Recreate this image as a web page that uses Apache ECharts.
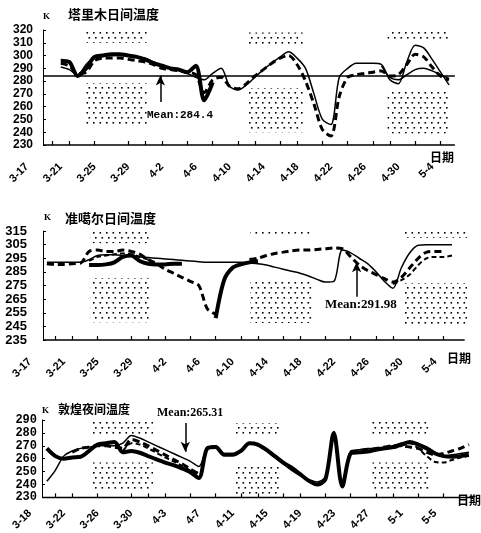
<!DOCTYPE html>
<html>
<head>
<meta charset="utf-8">
<script src="https://cdn.jsdelivr.net/npm/echarts@6/dist/echarts.min.js"></script>
<style>
  html, body { margin: 0; padding: 0; background: #fff; }
  #chart { width: 481px; height: 533px; }
</style>
</head>
<body>
<div id="chart"></div>
<script>
// tick labels (dates), every 4 days
const datesA = ['3-17', '3-21', '3-25', '3-29', '4-2', '4-6', '4-10', '4-14', '4-18', '4-22', '4-26', '4-30', '5-4'];
const datesB = ['3-18', '3-22', '3-26', '3-30', '4-3', '4-7', '4-11', '4-15', '4-19', '4-23', '4-27', '5-1', '5-5'];

// 塔里木日间温度, day 0 = 3-17
const tarimDays = [4, 5, 6, 7, 8, 9, 10, 11, 12, 13, 14, 15, 16, 17, 18, 19, 20, 21, 22, 23, 24, 25, 26, 27,
  28, 29, 30, 31, 32, 33, 34, 35, 36, 37, 38, 39, 40, 41, 42, 43, 44, 45, 46, 47, 48, 49, 50];
const tarimThin = [291, 289, 285, 293, 299, 300, 300, 300, 300, 299, 298, 295, 292, 290, 288, 286, 283, 281, 286, 290,
  276, 273, 277, 283, 289, 294, 299, 303, 298, 290, 270, 250, 246, 283, 290, 294, 294, 294, 293, 281, 278, 295, 308,
  306, 297, 287, 277];
const tarimThick = [296, 295, 284, 290, 299, 300, 301, 301, 300, 299, 297, 294, 292, 290, 289, 287, 292, 265, 279,
  null, null, null, null, null, null, null, null, null, null, null, null, null, null, null, null, null, null, null,
  null, null, null, null, null, null, null, null, null];
const tarimDash = [294, 292, 286, 287, 296, 298, 298, 298, 297, 296, 295, 293, 290, 289, 288, 287, 285, 271, 281, 283,
  276, 274, 278, 284, 289, 294, 298, 300, 293, 280, 262, 242, 237, 268, 283, 285, 286, 287, 288, 284, 285, 293, 301,
  299, 291, 284, 281];
const tarimThin2 = [null, null, null, null, null, null, null, null, null, null, null, null, null, null, null, null,
  null, null, null, null, null, null, null, null, null, null, null, null, null, null, null, null, null, null, null,
  null, null, null, 292, 283, 281, 285, 289, 290, 288, 285, 282];
const tarimMean = 284.4;
const tarimBoxes = [[6.9, 14.2, 310, 320], [26.2, 32.7, 308, 318], [42.7, 49.9, 313, 320],
  [6.9, 14.2, 244, 278.5], [26.2, 32.7, 240, 274.6], [42.7, 49.9, 239, 273]];

// 准噶尔日间温度, day 0 = 3-17
const junggarDays = [2, 3, 4, 5, 6, 7, 8, 9, 10, 11, 12, 13, 14, 15, 16, 17, 18, 19, 20, 21, 22, 23, 24, 25, 26,
  27, 28, 29, 30, 31, 32, 33, 34, 35, 36, 37, 38, 39, 40, 41, 42, 43, 44, 45, 46, 47, 48, 49, 50];
const junggarThin = [292, 292, 292, 292, 292, 294, 297, 297.5, 297.5, 297, 296.5, 296, 295.5, 295, 294.5, 294, 293.5,
  293, 292.5, 292, 292, 292, 292, 292, 291.5, 291, 290, 288.5, 287, 285.5, 284, 282, 279.5, 277.5, 278, 301, 299,
  295, 291, 285, 278, 273, 288, 299, 304.5, 305, 305, 305, 305];
const junggarThick = [null, null, null, null, null, 290, 290, 290.5, 292, 296, 297, 293, 291, 290.5, 290.5, 291, 291,
  null, null, null, 251, 279, 288, 290.5, 292, 293, null, null, null, null, null, null, null, null, null, null, null,
  null, null, null, null, null, null, null, null, null, null, null, null];
const junggarDash = [291, 290.5, 290.5, 291, 291.5, 300, 301, 300, 300, 301, 300, 298, 294, 291, 287, 284, 281, 278,
  275, 258, 254, null, null, null, 294, 295, 297, 298.5, 299.5, 300.5, 301, 301, 301.5, 302, 302.5, 302, 296, 290,
  286, 283, 280, 277.5, 281, 288, 295, 299.5, 300, 300, null];
const junggarDash2 = [null, null, null, null, null, 293, 296, 297, 298, 298.5, 298, 296, 294, null, null, null, null,
  null, null, null, null, null, null, null, null, null, null, null, null, null, null, null, null, null, null, null,
  null, null, null, null, null, 276, 279, 283, 290, 295, 296, 296, 297];
const junggarMean = 291.98;
const junggarBoxes = [[7.1, 14.2, 306, 315], [26.1, 33.5, 310.6, 315], [44.2, 51.8, 310, 315],
  [7.1, 14.2, 248, 280.5], [26.1, 33.5, 247.5, 277.6], [44.2, 51.8, 244.5, 276.8]];

// 敦煌夜间温度, day 0 = 3-18
const dunhuangDays = [2, 3, 4, 5, 6, 7, 8, 9, 10, 11, 12, 13, 14, 15, 16, 17, 18, 19, 20, 21, 22, 23, 24, 25, 26,
  27, 28, 29, 30, 31, 32, 33, 34, 35, 36, 37, 38, 39, 40, 41, 42, 43, 44, 45, 46, 47, 48, 49, 50, 51, 52];
const dunhuangThick = [268, 262, 260, 261, 261.5, 266, 271, 272, 273, 265, 266, 264.6, 262, 259.5, 257, 255, 252.5,
  249.5, 245, 268, 269, 263, 263, 266, 272, 271, 267, 262, 257, 253, 248, 243, 240, 244, 280, 238.5, 264, 265,
  265.5, 267, 268, 269, 271, 273, 271, 268, 264, 262, 261.5, 262, 263];
const dunhuangThin = [242.5, 251, 262, 266, 268, 269, 270, 270, 270, 272, 278, 276, 273, 270, 267, 264, 261, 258, 254,
  268, 270, 264, 264, 267, 271.5, 270, 266, 261, 256, 251, 247, 244, 242, 246, 281, 240, 266, 267, 268, 268, 269,
  270, 272, 273, 271, 269, 265, 262, 263, 264, 265];
const dunhuangDash = [null, null, null, 265, 268, 269, 270, 270, 269, 268, 275, 273, 270, 266.5, 263, 259.5, 256, 252,
  248, null, null, null, null, null, null, null, null, null, null, null, null, null, null, null, null, null, 265,
  266, 267, 268, 269, 270, 270, 269, 268, 265, 263, 264, 266, 268, 271];
const dunhuangDash2 = [null, null, null, null, null, null, null, null, null, 266, 272, 271, 268, 264.5, 261, 258,
  254.5, 251, 249, null, null, null, null, null, null, null, null, null, null, null, null, null, null, null, null,
  null, null, null, null, null, null, 268, 270, 272, 268, 262, 257.5, 257, 259, 261, 262];
const dunhuangMean = 265.31;
const dunhuangBoxes = [[7.3, 14.6, 278.5, 290], [24.1, 29.6, 278.5, 287.7], [40.3, 47.4, 277, 288.5],
  [7.3, 14.6, 236, 257], [24.1, 29.6, 231, 253.8], [40.3, 47.4, 236, 257]];

const PX_PER_DAY = 8.44;

// layout of the three panels
const panels = [
  { left: 27, top: 30, width: 428, height: 115, axisX: 43, yMin: 230, yMax: 320, yFont: 'Liberation Sans',
    ySize: 12, yMargin: 10, xMargin: 20, dates: datesA, baseEnd: 50.7, meanEnd: 50.7, mean: tarimMean,
    arrow: [15.8, 263.6], boxes: tarimBoxes },
  { left: 30, top: 231, width: 443, height: 109, axisX: 43, yMin: 235, yMax: 315, yFont: 'Liberation Sans',
    ySize: 13, yMargin: 16, xMargin: 20, dates: datesA, baseEnd: 51.5, meanEnd: 52.5, mean: junggarMean,
    arrow: [38.7, 266.8], boxes: junggarBoxes },
  { left: 30, top: 420, width: 447, height: 78, axisX: 42, yMin: 230, yMax: 290, yFont: 'Liberation Mono',
    ySize: 12, yMargin: 5, xMargin: 14, dates: datesB, baseEnd: 52.5, meanEnd: 53, mean: dunhuangMean,
    arrow: [18.4, 287.7], boxes: dunhuangBoxes },
];

function dotPattern() {
  const c = document.createElement('canvas');
  c.width = 13;
  c.height = 10;
  const ctx = c.getContext('2d');
  ctx.fillStyle = '#000';
  [[2, 2], [8.5, 2], [4, 7], [10.5, 7]].forEach(([x, y]) => ctx.fillRect(x, y, 1.6, 1.6));
  return c;
}
const dots = { image: dotPattern(), repeat: 'repeat' };

const thin = { width: 1.5 };
const thick = { width: 4 };
const dash = { width: 3, type: [7, 4] };
const dash2 = { width: 2, type: [5, 3] };

function line(gi, days, values, style) {
  return {
    type: 'line',
    xAxisIndex: gi,
    yAxisIndex: gi,
    data: days.map((d, i) => [d, values[i] == null ? '-' : values[i]]),
    showSymbol: false,
    symbol: 'none',
    smooth: 0.3,
    silent: true,
    z: 3,
    lineStyle: Object.assign({ color: '#000' }, style),
  };
}

// x axis line: starts at the y axis, not at the label origin
function baseline(gi) {
  const p = panels[gi];
  const start = (p.axisX - p.left) / PX_PER_DAY;
  return {
    type: 'line',
    xAxisIndex: gi,
    yAxisIndex: gi,
    data: [[start, p.yMin + 0.01], [p.baseEnd, p.yMin + 0.01]],
    showSymbol: false,
    symbol: 'none',
    clip: false,
    silent: true,
    z: 10,
    lineStyle: { color: '#000', width: 1.5 },
  };
}

function annotations(gi) {
  const p = panels[gi];
  const start = (p.axisX - p.left) / PX_PER_DAY;
  return {
    type: 'line',
    xAxisIndex: gi,
    yAxisIndex: gi,
    data: [],
    silent: true,
    clip: false,
    z: 2,
    markArea: {
      silent: true,
      itemStyle: { color: dots },
      data: p.boxes.map(b => [{ xAxis: b[0], yAxis: b[2] }, { xAxis: b[1], yAxis: b[3] }]),
    },
    markLine: {
      silent: true,
      symbol: ['none', 'none'],
      label: { show: false },
      lineStyle: { color: '#000', type: 'solid', width: 1.5 },
      data: [
        [{ coord: [start, p.mean] }, { coord: [p.meanEnd, p.mean] }],
        [{ coord: p.arrow, symbol: 'none' }, { coord: [p.arrow[0], p.mean], symbol: 'arrow', symbolSize: [7, 10] }],
      ],
    },
  };
}

const grid = panels.map(p => ({ left: p.left, top: p.top, width: p.width, height: p.height }));

const xAxis = panels.map((p, gi) => ({
  type: 'value',
  gridIndex: gi,
  min: 0,
  max: p.width / PX_PER_DAY,
  interval: 4,
  splitLine: { show: false },
  axisLine: { show: false },
  axisTick: {
    show: true, inside: true, length: 4, lineStyle: { color: '#000', width: 1.2 },
    customValues: [3, 5, 8, 12, 14, 16, 19, 22, 25, 27, 30, 32, 35, 38, 41, 43, 46, 49],
  },
  axisLabel: {
    rotate: 45,
    margin: p.xMargin,
    showMinLabel: true,
    showMaxLabel: false,
    color: '#000',
    fontSize: 11,
    fontWeight: 'bold',
    fontFamily: 'Liberation Sans',
    formatter: v => p.dates[Math.round(v / 4)] || '',
  },
}));

const yAxis = panels.map((p, gi) => ({
  type: 'value',
  gridIndex: gi,
  min: p.yMin,
  max: p.yMax,
  interval: 10,
  offset: -(p.axisX - p.left),
  splitLine: { show: false },
  axisLine: { show: true, lineStyle: { color: '#000', width: 1 } },
  axisTick: { show: true, inside: true, length: 3, lineStyle: { color: '#000' } },
  axisLabel: {
    margin: p.yMargin,
    showMinLabel: true,
    showMaxLabel: true,
    hideOverlap: false,
    color: '#000',
    fontSize: p.ySize,
    fontWeight: 'bold',
    fontFamily: p.yFont,
  },
}));

function text(str, x, y, font) {
  return { type: 'text', x, y, style: { text: str, font, fill: '#000', verticalAlign: 'middle' } };
}

const cjk = '"Noto Sans CJK SC"';

const option = {
  animation: false,
  backgroundColor: '#fff',
  grid,
  xAxis,
  yAxis,
  series: [
    annotations(0),
    line(0, tarimDays, tarimThin, thin),
    line(0, tarimDays, tarimThick, thick),
    line(0, tarimDays, tarimDash, dash),
    line(0, tarimDays, tarimThin2, thin),
    baseline(0),
    annotations(1),
    line(1, junggarDays, junggarThin, thin),
    line(1, junggarDays, junggarThick, thick),
    line(1, junggarDays, junggarDash, dash),
    line(1, junggarDays, junggarDash2, dash2),
    baseline(1),
    annotations(2),
    line(2, dunhuangDays, dunhuangThin, thin),
    line(2, dunhuangDays, dunhuangThick, thick),
    line(2, dunhuangDays, dunhuangDash, dash),
    line(2, dunhuangDays, dunhuangDash2, dash2),
    baseline(2),
  ],
  graphic: [
    text('塔里木日间温度', 68, 14, 'bold 13px ' + cjk),
    text('K', 43, 17, 'bold 9px "Liberation Serif"'),
    text('Mean:284.4', 147, 115, 'bold 11px "Liberation Mono"'),
    text('日期', 430, 157, 'bold 12px ' + cjk),
    text('准噶尔日间温度', 65, 218, 'bold 13px ' + cjk),
    text('K', 44, 218, 'bold 9px "Liberation Serif"'),
    text('Mean:291.98', 325, 305, 'bold 13px "Liberation Serif"'),
    text('日期', 447, 358, 'bold 12px ' + cjk),
    text('敦煌夜间温度', 58, 409, 'bold 12px ' + cjk),
    text('K', 42, 411, 'bold 9px "Liberation Serif"'),
    text('Mean:265.31', 157, 413, 'bold 12px "Liberation Serif"'),
    text('日期', 457, 500, 'bold 12px ' + cjk),
  ],
};

const myChart = echarts.init(document.getElementById('chart'));
myChart.setOption(option);
</script>
</body>
</html>
